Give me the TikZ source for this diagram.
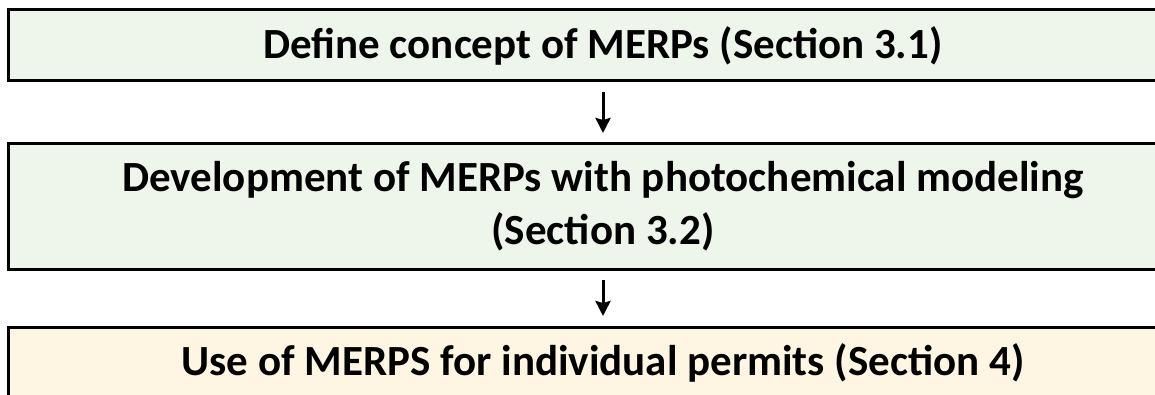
\documentclass[tikz,border=0pt]{standalone}
\usepackage{fontspec}
\setmainfont{Carlito}
\usetikzlibrary{arrows.meta}
\definecolor{stagegreen}{HTML}{EEF6EC}
\definecolor{stagecream}{HTML}{FEF5E3}
\tikzset{>={Stealth[length=15pt,width=15pt,inset=2pt]},x=1pt,y=-1pt,
  stage/.style={draw=black,line width=3pt,minimum width=1190pt,inner sep=0pt,
    align=center,font=\fontsize{43}{53}\selectfont\bfseries},
  flow/.style={->,line width=3pt,shorten <=9.5pt,shorten >=9.5pt}}

\begin{document}
\begin{tikzpicture}
\useasboundingbox (0,0) rectangle (1155,395);
\clip (0,0) rectangle (1155,395);
\node[stage,fill=stagegreen,minimum height=71pt] (concept) at (603,45.5)
  {Define concept of MERPs (Section 3.1)};
\node[stage,fill=stagegreen,minimum height=125pt] (develop) at (603,206.5)
  {Development of MERPs with photochemical modeling\\(Section 3.2)};
\node[stage,fill=stagecream,minimum height=72pt] (permits) at (603,363)
  {Use of MERPS for individual permits (Section 4)};
\draw[flow] (concept) -- (develop);
\draw[flow] (develop) -- (permits);
\end{tikzpicture}
\end{document}
